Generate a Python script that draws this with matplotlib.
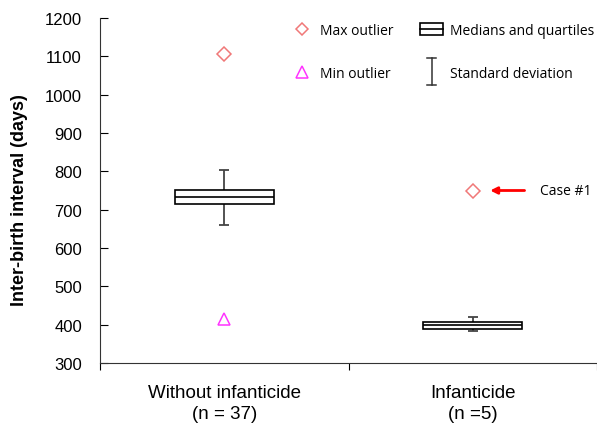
import numpy as np
import matplotlib
matplotlib.use("Agg")
import matplotlib.pyplot as plt
from matplotlib.lines import Line2D
from matplotlib.patches import Rectangle
from matplotlib.legend_handler import HandlerBase

# data
groups = ["Without infanticide\n(n = 37)", "Infanticide\n(n =5)"]
q1 = [716, 389]
median = [734, 398]
q3 = [750, 407]
sd_low = [660, 383]
sd_high = [804, 420]
max_outlier = [1106, 750]
min_outlier = [416, np.nan]
yticks = [300, 400, 500, 600, 700, 800, 900, 1000, 1100, 1200]

plt.rcParams['font.family'] = ['Liberation Sans', 'DejaVu Sans']

fig = plt.figure(figsize=(5.97, 4.27), dpi=100)
ax = fig.add_axes([100 / 597, 1 - 364 / 427, 497 / 597, 345 / 427])

xpos = np.arange(len(groups)) + 0.5
diamond_c = "#f07878"
tri_c = "#ff33ff"

# standard deviation whiskers
ax.vlines(xpos, sd_low, sd_high, color="#444444", lw=1.3, zorder=1)
ax.hlines(sd_low, xpos - 0.02, xpos + 0.02, color="#444444", lw=1.3, zorder=1)
ax.hlines(sd_high, xpos - 0.02, xpos + 0.02, color="#444444", lw=1.3, zorder=1)

# boxes
ax.bar(xpos, np.array(q3) - np.array(q1), bottom=q1, width=0.4,
       facecolor="white", edgecolor="black", lw=1.2, zorder=2)
ax.hlines(median, xpos - 0.2, xpos + 0.2, color="black", lw=1.2, zorder=3)

# outliers
ax.plot(xpos, max_outlier, ls="none", marker="D", ms=7, mfc="none",
        mec=diamond_c, mew=1.1, zorder=4)
ax.plot(xpos, min_outlier, ls="none", marker="^", ms=9, mfc="none",
        mec=tri_c, mew=1.1, zorder=4)

ax.annotate("Case #1", xy=(xpos[1] + 0.07, max_outlier[1]),
            xytext=(xpos[1] + 0.27, max_outlier[1]), va="center", ha="left",
            fontsize=10, family=["Open Sans", "DejaVu Sans"],
            arrowprops=dict(arrowstyle="-|>", color="red", lw=2,
                            mutation_scale=10, shrinkA=9, shrinkB=0))

ax.set_xlim(0, 2)
ax.set_ylim(300, 1200)
ax.set_yticks(yticks)
ax.tick_params(axis="y", direction="in", length=6, pad=13, labelsize=12)
ax.set_xticks([0, 1, 2])
ax.set_xticklabels([])
ax.set_xticks(xpos, minor=True)
ax.set_xticklabels(groups, minor=True, linespacing=1.35)
ax.tick_params(axis="x", which="major", direction="out", length=5)
ax.tick_params(axis="x", which="minor", length=0, pad=15, labelsize=13.5)
ax.spines["top"].set_visible(False)
ax.spines["right"].set_visible(False)
for s in ["left", "bottom"]:
    ax.spines[s].set_color("#333333")
ax.set_ylabel("Inter-birth interval (days)", fontweight="bold", fontsize=13)
ax.yaxis.set_label_coords(-0.144, 0.475)


class BoxHandler(HandlerBase):
    def create_artists(self, legend, orig, xd, yd, w, h, fs, trans):
        r = Rectangle((xd, yd - 0.15 * h), w, h * 1.3, fc="white", ec="black",
                      lw=1.2, transform=trans)
        m = Line2D([xd, xd + w], [yd + 0.5 * h, yd + 0.5 * h], color="black",
                   lw=1.2, transform=trans)
        return [r, m]


class SdHandler(HandlerBase):
    def create_artists(self, legend, orig, xd, yd, w, h, fs, trans):
        cx = xd + 0.5 * w
        v = Line2D([cx, cx], [yd - 0.9 * h, yd + 1.9 * h], color="#333333",
                   lw=1.1, transform=trans)
        t = Line2D([cx - 3, cx + 3], [yd + 1.9 * h] * 2, color="#333333",
                   lw=1.1, transform=trans)
        b = Line2D([cx - 3, cx + 3], [yd - 0.9 * h] * 2, color="#333333",
                   lw=1.1, transform=trans)
        return [v, t, b]


box_h = Rectangle((0, 0), 1, 1)
sd_h = Line2D([], [])
handles = [
    Line2D([], [], ls="none", marker="D", ms=6, mfc="none", mec=diamond_c, mew=1.1),
    Line2D([], [], ls="none", marker="^", ms=8, mfc="none", mec=tri_c, mew=1.1),
    box_h,
    sd_h,
]
labels = ["Max outlier", "Min outlier", "Medians and quartiles", "Standard deviation"]
leg = ax.legend(handles, labels, ncol=2, frameon=False,
                loc="upper left", bbox_to_anchor=(283 / 597, 1 - 17 / 427),
                bbox_transform=fig.transFigure,
                prop={"family": ["Open Sans", "DejaVu Sans"], "size": 10},
                handlelength=1.7, handletextpad=0.5, columnspacing=1.85,
                labelspacing=2.0, borderpad=0,
                handler_map={box_h: BoxHandler(), sd_h: SdHandler()})

fig.savefig("out.png", dpi=100)
